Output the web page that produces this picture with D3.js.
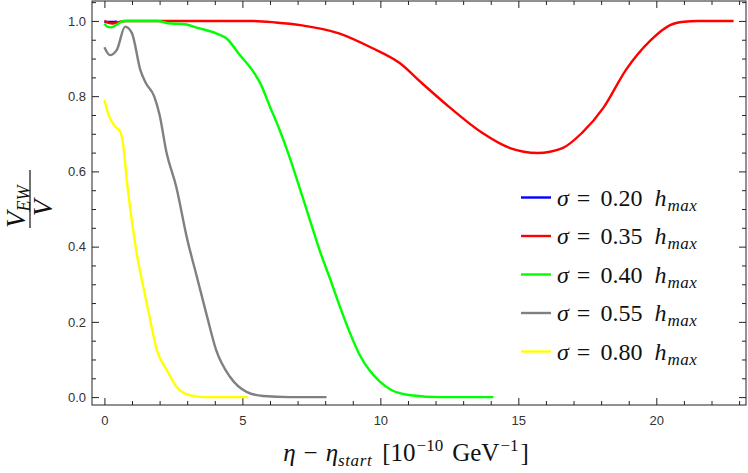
<!DOCTYPE html>
<html><head><meta charset="utf-8">
<script src="https://cdn.jsdelivr.net/npm/d3@7"></script>
<style>
html,body{margin:0;padding:0;background:#fff;}
svg{display:block;}
</style></head>
<body>
<svg id="chart" width="748" height="473"></svg>
<script>
// ---- data ----
const seriesLabels = ["0.20", "0.35", "0.40", "0.55", "0.80"];
const seriesColors = ["#0000ff", "#ff0000", "#00ff00", "#808080", "#ffff00"];

const blueX = [0, 0.15, 0.3, 0.45];
const blueY = [0.998, 0.997, 0.997, 0.999];

const redX = [0, 0.15, 0.3, 0.5, 0.8, 3, 5.3, 6.2, 7.1, 8.5, 9.7, 10.7, 11.5, 12.5, 13.7, 14.7, 15.7, 16.6, 17.3, 18.1, 18.9, 19.8, 20.5, 21.0, 21.5, 22.8];
const redY = [1.0, 0.995, 0.993, 0.997, 1.0, 1.0, 1.0, 0.996, 0.989, 0.967, 0.928, 0.888, 0.835, 0.771, 0.702, 0.662, 0.649, 0.662, 0.702, 0.771, 0.870, 0.949, 0.989, 0.998, 1.0, 1.0];

const greenX = [0, 0.1, 0.25, 0.45, 0.7, 1.9, 2.4, 2.85, 3.45, 4.05, 4.45, 4.9, 5.3, 5.65, 6.0, 6.35, 6.7, 7.1, 7.45, 7.8, 8.2, 8.55, 8.9, 9.25, 9.6, 10.0, 10.4, 11.1, 12.2, 14.1];
const greenY = [0.993, 0.985, 0.983, 0.99, 1.0, 1.0, 0.993, 0.992, 0.98, 0.967, 0.952, 0.91, 0.875, 0.834, 0.772, 0.71, 0.64, 0.55, 0.47, 0.39, 0.31, 0.237, 0.17, 0.112, 0.072, 0.04, 0.019, 0.005, 0.0, 0.0];

const greyX = [0, 0.2, 0.45, 0.75, 1.0, 1.3, 1.5, 1.8, 2.0, 2.25, 2.6, 3.0, 3.35, 3.7, 4.05, 4.55, 5.15, 5.75, 6.7, 8.05];
const greyY = [0.93, 0.909, 0.923, 0.985, 0.967, 0.87, 0.835, 0.80, 0.75, 0.65, 0.56, 0.42, 0.32, 0.22, 0.125, 0.054, 0.014, 0.003, 0.0, 0.0];

const yellowX = [0, 0.15, 0.39, 0.57, 0.69, 0.81, 0.99, 1.17, 1.41, 1.66, 1.9, 2.26, 2.62, 3.1, 3.7, 5.2];
const yellowY = [0.79, 0.75, 0.719, 0.706, 0.666, 0.577, 0.471, 0.382, 0.293, 0.205, 0.125, 0.072, 0.027, 0.005, 0.0, 0.0];

const xMajorTicks = [0, 5, 10, 15, 20];
const xMinorTicks = d3.range(0, 24, 1).filter(v => v % 5 !== 0);
const yMajorTicks = [0, 0.2, 0.4, 0.6, 0.8, 1.0];
const yMinorTicks = d3.range(0.05, 1.06, 0.05).filter(v => Math.abs(v*5 - Math.round(v*5)) > 1e-6);

// ---- layout ----
const L = 92, R = 746, T = 1, B = 405;
const svg = d3.select("#chart");
const x = d3.scaleLinear().domain([-0.45, 23.25]).range([L, R]);
const y = d3.scaleLinear().domain([-0.021, 1.053]).range([B, T]);

const tickFont = "'Liberation Sans', Arial, sans-serif";
const serif = "'Liberation Serif', 'Times New Roman', serif";
const frameColor = "#222";

function styleAxis(g) {
  g.select(".domain").remove();
  g.selectAll("line").attr("stroke", frameColor).attr("stroke-width", 1);
  g.selectAll("text").attr("font-family", tickFont).attr("font-size", 13).attr("fill", "#333");
}

// axes (ticks inward)
svg.append("g").attr("transform", `translate(0,${B})`)
  .call(d3.axisBottom(x).tickValues(xMajorTicks).tickSize(-7).tickPadding(11).tickFormat(d3.format("d")))
  .call(styleAxis);
svg.append("g").attr("transform", `translate(0,${B})`)
  .call(d3.axisBottom(x).tickValues(xMinorTicks).tickSize(-4).tickFormat(""))
  .call(styleAxis);
svg.append("g").attr("transform", `translate(0,${T})`)
  .call(d3.axisTop(x).tickValues(xMajorTicks).tickSize(-7).tickFormat(""))
  .call(styleAxis);
svg.append("g").attr("transform", `translate(0,${T})`)
  .call(d3.axisTop(x).tickValues(xMinorTicks).tickSize(-4).tickFormat(""))
  .call(styleAxis);

svg.append("g").attr("transform", `translate(${L},0)`)
  .call(d3.axisLeft(y).tickValues(yMajorTicks).tickSize(-7).tickPadding(6).tickFormat(d3.format(".1f")))
  .call(styleAxis);
svg.append("g").attr("transform", `translate(${L},0)`)
  .call(d3.axisLeft(y).tickValues(yMinorTicks).tickSize(-4).tickFormat(""))
  .call(styleAxis);
svg.append("g").attr("transform", `translate(${R},0)`)
  .call(d3.axisRight(y).tickValues(yMajorTicks).tickSize(-7).tickFormat(""))
  .call(styleAxis);
svg.append("g").attr("transform", `translate(${R},0)`)
  .call(d3.axisRight(y).tickValues(yMinorTicks).tickSize(-4).tickFormat(""))
  .call(styleAxis);

// frame
svg.append("rect").attr("x", L).attr("y", T).attr("width", R - L).attr("height", B - T)
  .attr("fill", "none").attr("stroke", frameColor).attr("stroke-width", 1);

// lines
const seriesData = [
  [blueX, blueY], [redX, redY], [greenX, greenY], [greyX, greyY], [yellowX, yellowY]
];
const line = d3.line().x(d => x(d[0])).y(d => y(d[1])).curve(d3.curveMonotoneX);
const plot = svg.append("g");
seriesData.forEach((s, i) => {
  const pts = s[0].map((v, j) => [v, s[1][j]]);
  plot.append("path").datum(pts)
    .attr("d", line)
    .attr("fill", "none")
    .attr("stroke", seriesColors[i])
    .attr("stroke-width", 2.4)
    .attr("stroke-linejoin", "round")
    .attr("stroke-linecap", "butt");
});

// legend
const legY0 = 197.5, legDy = 38.5;
seriesLabels.forEach((lab, i) => {
  const cy = legY0 + i * legDy;
  svg.append("line").attr("x1", 521).attr("x2", 551).attr("y1", cy).attr("y2", cy)
    .attr("stroke", seriesColors[i]).attr("stroke-width", 2.4);
  const t = svg.append("text").attr("x", 557).attr("y", cy + 8)
    .attr("font-family", serif).attr("font-size", 24).attr("fill", "#111");
  t.append("tspan").attr("font-style", "italic").text("σ");
  t.append("tspan").attr("dx", 8).text("=");
  t.append("tspan").attr("dx", 10).text(lab);
  t.append("tspan").attr("dx", 12).attr("font-style", "italic").text("h");
  t.append("tspan").attr("font-style", "italic").attr("font-size", 17).attr("dy", 5).attr("dx", 1).attr("letter-spacing", 0.6).text("max");
});

// x title
const xt = svg.append("text").attr("x", 406).attr("y", 461).attr("text-anchor", "middle")
  .attr("font-family", serif).attr("font-size", 25).attr("fill", "#111");
xt.append("tspan").attr("font-style", "italic").text("η");
xt.append("tspan").attr("dx", 8).text("−");
xt.append("tspan").attr("dx", 8).attr("font-style", "italic").text("η");
xt.append("tspan").attr("font-style", "italic").attr("font-size", 17).attr("dy", 5).attr("letter-spacing", 0.6).text("start");
xt.append("tspan").attr("dy", -5).attr("dx", 10).text("[10");
xt.append("tspan").attr("font-size", 17).attr("dy", -10).attr("dx", 1).text("−10");
xt.append("tspan").attr("dy", 10).attr("dx", 9).text("GeV");
xt.append("tspan").attr("font-size", 17).attr("dy", -10).attr("dx", 1).text("−1");
xt.append("tspan").attr("dy", 10).attr("dx", 2).text("]");

// y title (fraction, rotated)
const yt = svg.append("g").attr("transform", "translate(30,199) rotate(-90)");
yt.append("line").attr("x1", -29).attr("x2", 29).attr("y1", 0).attr("y2", 0)
  .attr("stroke", "#111").attr("stroke-width", 1.2);
const num = yt.append("text").attr("x", -29).attr("y", -5)
  .attr("font-family", serif).attr("font-size", 27).attr("fill", "#111");
num.append("tspan").attr("font-style", "italic").text("V");
num.append("tspan").attr("font-style", "italic").attr("font-size", 18).attr("dy", 5).text("EW");
yt.append("text").attr("x", -9).attr("y", 22).attr("text-anchor", "middle")
  .attr("font-family", serif).attr("font-size", 27).attr("font-style", "italic").attr("fill", "#111").text("V");
</script>
</body></html>
